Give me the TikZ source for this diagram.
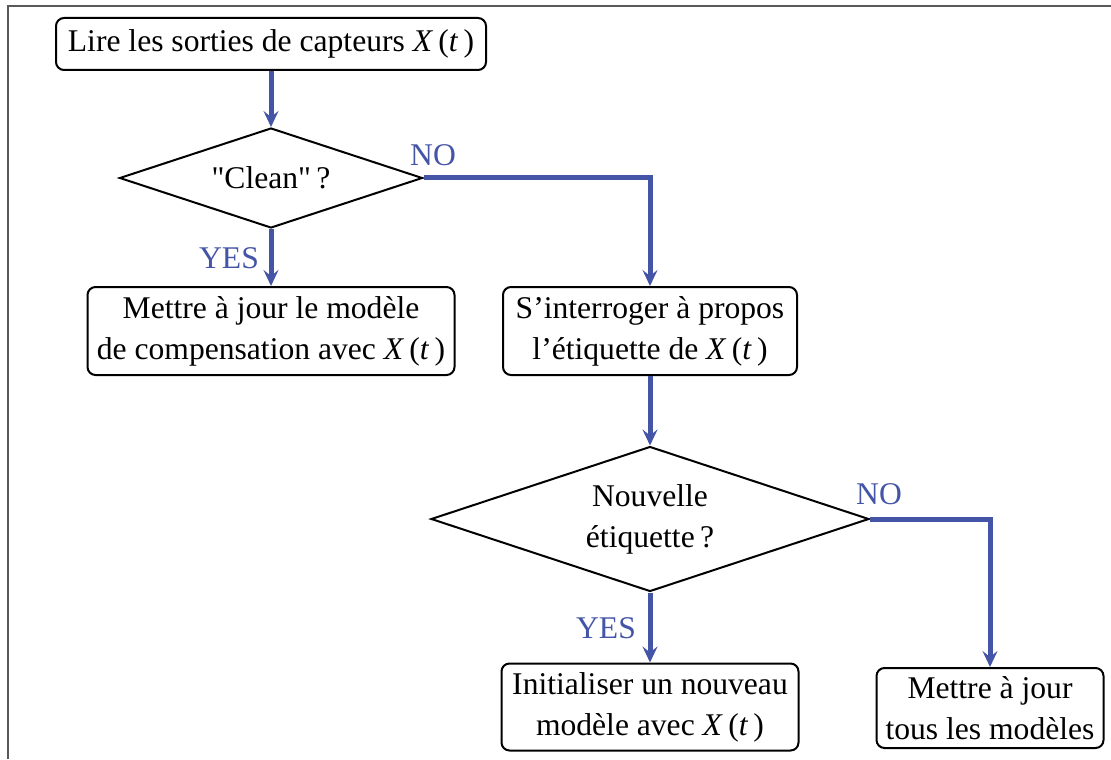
\documentclass[tikz,border=0pt]{standalone}
\usepackage{fontspec}
\setmainfont{Liberation Serif}
\usetikzlibrary{shapes.geometric,arrows.meta,positioning}
\definecolor{flowblue}{RGB}{68,84,166}

\begin{document}
\begin{tikzpicture}[x=0.5pt,y=-0.5pt,
  font=\fontsize{15.8}{20.5}\selectfont,
  box/.style={draw=black, line width=1pt, rounded corners=4pt, align=center, inner sep=0pt},
  decision/.style={draw=black, line width=1pt, diamond, aspect=3, align=center, inner sep=0pt},
  flow/.style={draw=flowblue, line width=2.5pt, -{Stealth[length=8pt,width=7.5pt,inset=3pt]}},
  answer/.style={text=flowblue}]
\useasboundingbox (0,0) rectangle (1111,759);
\draw[line width=1pt, black!65] (8,759) -- (8,6) -- (1111,6);

\node[box, minimum width=215pt, minimum height=26pt] (read) at (271,44) {Lire les sorties de capteurs \textit{X}\,(\textit{t}\,)};
\node[decision, minimum width=151.5pt, minimum height=50pt] (clean) at (271,178) {\textquotedbl Clean\textquotedbl\,?};
\node[box, minimum width=183.5pt, minimum height=44pt] (update) at (271,331) {Mettre à jour le modèle\\de compensation avec \textit{X}\,(\textit{t}\,)};
\node[box, minimum width=147pt, minimum height=44pt] (ask) at (650,331) {S’interroger à propos\\l’étiquette de \textit{X}\,(\textit{t}\,)};
\node[decision, minimum width=219pt, minimum height=72.5pt] (newlabel) at (650,519) {Nouvelle\\étiquette\,?};
\node[box, minimum width=148.5pt, minimum height=43.5pt] (init) at (650,707) {Initialiser un nouveau\\modèle avec \textit{X}\,(\textit{t}\,)};
\node[box, minimum width=113.5pt, minimum height=40pt] (updateall) at (990,708) {Mettre à jour\\tous les modèles};

\draw[flow] (read) -- (clean);
\draw[flow] (clean) -- (update);
\draw[flow] (clean.east) -| (ask.north);
\draw[flow] (ask) -- (newlabel);
\draw[flow] (newlabel) -- (init);
\draw[flow] (newlabel.east) -| (updateall.north);

\node[answer] (yes1) at (229,258) {YES};
\node[answer] (no1) at (433,155) {NO};
\node[answer] (yes2) at (606,628) {YES};
\node[answer] (no2) at (879,494) {NO};
\end{tikzpicture}
\end{document}
